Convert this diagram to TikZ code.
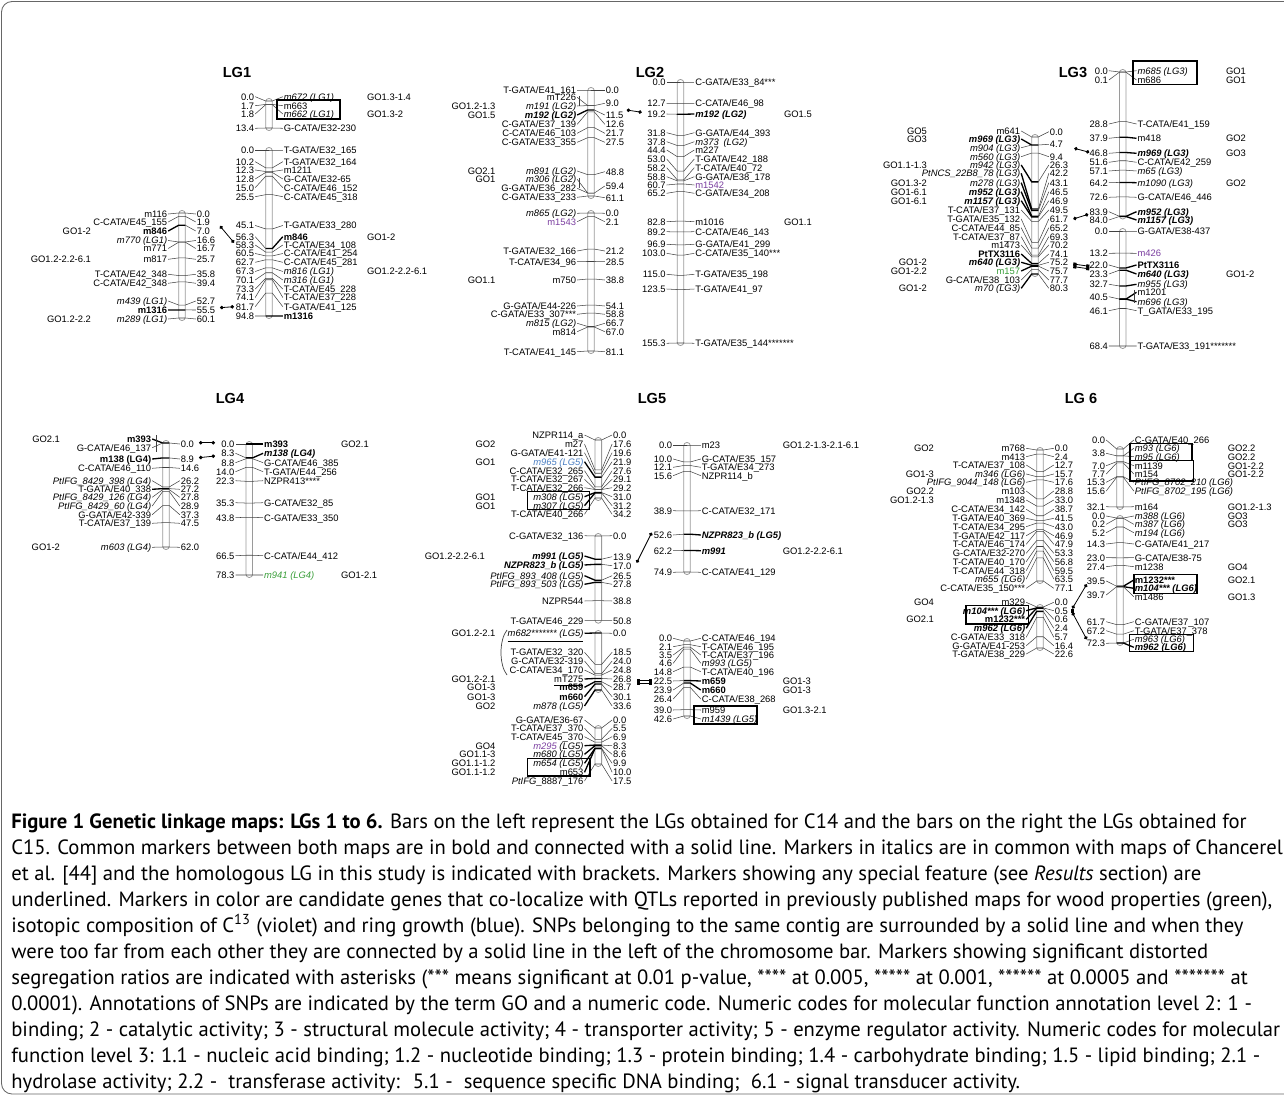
\documentclass[tikz,border=0pt]{standalone}
\usepackage{fontspec}
\setmainfont{Liberation Sans}
\newfontfamily\capfont{PT Sans}
\usetikzlibrary{arrows.meta}
\definecolor{mapvio}{HTML}{7B3FA0}
\definecolor{mapgrn}{HTML}{3A9E3A}
\definecolor{mapblu}{HTML}{4A7EC2}
\definecolor{mapline}{HTML}{404040}
\definecolor{mapbar}{HTML}{9A9A9A}
\newcounter{mk}
\newcommand\mapfont{\fontsize{5.35}{6}\selectfont}
\newcommand\mkit[1]{\textit{#1}}
\newcommand\mkbf[1]{\textbf{#1}}
\newcommand\mkbi[1]{\textbf{\textit{#1}}}
\newcommand\vio[1]{\textcolor{mapvio}{#1}}
\newcommand\grn[1]{\textcolor{mapgrn}{#1}}
\newcommand\blu[1]{\textcolor{mapblu}{#1}}
% bar with names on the left and positions on the right
% #1 x, #2 y at 0 cM, #3 y at last cM, #4 last cM, #5 names, #6 positions
\newcommand\chrA[6]{%
  \pgfmathsetmacro\cfac{(#3-#2)/#4}%
  \draw[chrbar] (#1-3.3,#2-2.5) rectangle (#1+3.3,#3+2.5);
  \foreach \ly/\cmv/\txt/\sty in {#5}{%
    \stepcounter{mk}%
    \pgfmathsetmacro\yb{#2+\cmv*\cfac}%
    \node[mname,anchor=east] (nm\arabic{mk}) at (#1-13.8,\ly) {\txt};
    \draw[mk-\sty] (nm\arabic{mk}.east) -- (#1-3.3,\yb) -- (#1+3.3,\yb);
  }
  \foreach \ly/\cmv in {#6}{%
    \stepcounter{mk}%
    \pgfmathsetmacro\yb{#2+\cmv*\cfac}%
    \node[mname,anchor=west] (ps\arabic{mk}) at (#1+13.8,\ly) {\cmv};
    \draw[mk-n] (#1+3.3,\yb) -- (ps\arabic{mk}.west);
  }
}
% bar with positions on the left and names on the right
\newcommand\chrB[6]{%
  \pgfmathsetmacro\cfac{(#3-#2)/#4}%
  \draw[chrbar] (#1-3.3,#2-2.5) rectangle (#1+3.3,#3+2.5);
  \foreach \ly/\cmv/\txt/\sty in {#5}{%
    \stepcounter{mk}%
    \pgfmathsetmacro\yb{#2+\cmv*\cfac}%
    \node[mname,anchor=west] (nm\arabic{mk}) at (#1+13.8,\ly) {\txt};
    \draw[mk-\sty] (nm\arabic{mk}.west) -- (#1+3.3,\yb) -- (#1-3.3,\yb);
  }
  \foreach \ly/\cmv in {#6}{%
    \stepcounter{mk}%
    \pgfmathsetmacro\yb{#2+\cmv*\cfac}%
    \node[mname,anchor=east] (ps\arabic{mk}) at (#1-13.8,\ly) {\cmv};
    \draw[mk-n] (#1-3.3,\yb) -- (ps\arabic{mk}.east);
  }
}
% GO annotations: #1 anchor, #2 x, #3 list y/text
\newcommand\golist[3]{%
  \foreach \gy/\gt in {#3}{%
    \stepcounter{mk}%
    \node[mname,anchor=#1] (go\arabic{mk}) at (#2,\gy) {\gt};
  }
}

\begin{document}
\begin{tikzpicture}[x=0.02cm,y=-0.02cm,
  chrbar/.style={draw=mapbar,line width=0.45pt,rounded corners=1.8pt},
  mk-n/.style={draw=mapline,line width=0.3pt},
  mk-b/.style={draw=black,line width=0.75pt},
  mname/.style={font=\mapfont,inner sep=0.4pt,text height=4.3pt,text depth=0.5pt},
  snpbox/.style={draw=black,line width=0.9pt},
  bracket/.style={draw=mapline,line width=0.4pt},
  link/.style={draw=black,line width=0.45pt,{Circle[length=2pt]}-{Circle[length=2pt]}},
  link2/.style={draw=black,line width=0.45pt,{Square[length=1.8pt]}-{Square[length=1.8pt]}},
  lgtitle/.style={font=\fontsize{8.3}{10}\selectfont\bfseries},
  capline/.style={anchor=base west,inner sep=0pt,font=\capfont\fontsize{11.75}{14}\selectfont}
]
\useasboundingbox (0,0) rectangle (1284,1101);
\draw[draw=black!60,line width=0.5pt,rounded corners=6pt] (1.5,1.5) rectangle (1340,1094);

% titles
\node[lgtitle] (t1) at (237,72) {LG1};
\node[lgtitle] (t2) at (650,72) {LG2};
\node[lgtitle] (t3) at (1073,72) {LG3};
\node[lgtitle] (t4) at (230,398) {LG4};
\node[lgtitle] (t5) at (652,398) {LG5};
\node[lgtitle] (t6) at (1081,398) {LG 6};

% ---------------- LG1
\chrA{182}{213}{318}{60.1}{%
214/0.0/m116/n,222/1.9/{C-CATA/E45\_155}/n,231/7.0/{\mkbf{m846}}/b,%
240.5/16.6/{\mkit{m770 (LG1)}}/n,248.5/16.7/m771/n,259.3/25.7/m817/n,%
274.3/35.8/{T-CATA/E42\_348}/n,283.3/39.4/{C-CATA/E42\_348}/n,%
301/52.7/{\mkit{m439 (LG1)}}/n,310/55.5/{\mkbf{m1316}}/b,319/60.1/{\mkit{m289 (LG1)}}/n}{%
214/0.0,222/1.9,231/7.0,240.5/16.6,248.5/16.7,259.3/25.7,274.3/35.8,283.3/39.4,301/52.7,310/55.5,319/60.1}
\chrB{269}{101}{128}{13.4}{%
96.7/0.0/{\mkit{m672 (LG1)}}/n,105.7/1.7/m663/n,114/1.8/{\mkit{m662 (LG1)}}/n,128.3/13.4/{G-CATA/E32-230}/n}{%
96.7/0.0,105.7/1.7,114/1.8,128.3/13.4}
\chrB{269}{150}{316}{94.8}{%
150/0.0/{T-GATA/E32\_165}/n,161.7/10.2/{T-GATA/E32\_164}/n,170/12.3/m1211/n,%
179/12.8/{G-CATA/E32-65}/n,187.7/15.0/{C-CATA/E46\_152}/n,196.7/25.5/{C-CATA/E45\_318}/n,%
225.5/45.1/{T-GATA/E33\_280}/n,236.7/56.3/{\mkbf{m846}}/b,245/58.3/{T-CATA/E34\_108}/n,%
253.5/60.5/{C-CATA/E41\_254}/n,262.3/62.7/{C-CATA/E45\_281}/n,271.5/67.3/{\mkit{m816 (LG1)}}/n,%
280/70.1/{\mkit{m316 (LG1)}}/n,289/73.3/{T-CATA/E45\_228}/n,297.5/74.1/{T-CATA/E37\_228}/n,%
306.7/81.7/{T-GATA/E41\_125}/n,316/94.8/{\mkbf{m1316}}/b}{%
150/0.0,161.7/10.2,170/12.3,179/12.8,187.7/15.0,196.7/25.5,225.5/45.1,236.7/56.3,245/58.3,%
253.5/60.5,262.3/62.7,271.5/67.3,280/70.1,289/73.3,297.5/74.1,306.7/81.7,316/94.8}
\draw[snpbox] (277,100) rectangle (340,119);
\golist{east}{92}{231/GO1-2,259.3/GO1.2-2.2-6.1,319/GO1.2-2.2}
\golist{west}{366}{96.7/GO1.3-1.4,114/GO1.3-2,236.7/GO1-2,271.5/GO1.2-2.2-6.1}
\coordinate (c846a) at (220,226);
\coordinate (c846b) at (234,242.7);
\coordinate (c1316a) at (220,307.7);
\coordinate (c1316b) at (234,306.7);
\draw[link] (c846a) -- (c846b);
\draw[link] (c1316a) -- (c1316b);

% ---------------- LG2
\chrA{591}{90}{196}{61.1}{%
90/0.0/{T-GATA/E41\_161}/n,97.3/9.0/mT226/n,106/9.0/{\mkit{m191 (LG2)}}/n,%
115/11.5/{\mkbi{m192 (LG2)}}/b,124.3/12.6/{C-GATA/E37\_139}/n,133.3/21.7/{C-CATA/E46\_103}/n,%
142.3/27.5/{C-GATA/E33\_355}/n,171/48.8/{\mkit{m891 (LG2)}}/n,179.3/59.4/{\mkit{m306 (LG2)}}/n,%
188.3/59.4/{G-GATA/E36\_282}/n,197.3/61.1/{C-GATA/E33\_233}/n}{%
90/0.0,103.3/9.0,115/11.5,124.3/12.6,133.3/21.7,142.3/27.5,171.7/48.8,186/59.4,197.7/61.1}
\draw[bracket] (579.3,96) -- (579.3,106);
\draw[bracket] (579.3,178) -- (579.3,188);
\chrA{591}{213}{351}{81.1}{%
213.3/0.0/{\mkit{m865 (LG2)}}/n,221.7/2.1/{\vio{m1543}}/n,251/21.2/{T-GATA/E32\_166}/n,%
261.7/28.5/{T-CATA/E34\_96}/n,280/38.8/m750/n,306/54.1/{G-GATA/E44-226}/n,%
314.3/58.8/{C-GATA/E33\_307***}/n,323.3/66.7/{\mkit{m815 (LG2)}}/n,331.7/67.0/m814/n,%
351.7/81.1/{T-CATA/E41\_145}/n}{%
213.3/0.0,221.7/2.1,251/21.2,261.7/28.5,280/38.8,306/54.1,314.3/58.8,323.3/66.7,331.7/67.0,351.7/81.1}
\chrB{680.5}{82}{343}{155.3}{%
82/0.0/{C-GATA/E33\_84***}/n,103.3/12.7/{C-CATA/E46\_98}/n,114/19.2/{\mkbi{m192 (LG2)}}/b,%
132.7/31.8/{G-GATA/E44\_393}/n,141.7/37.8/{\mkit{m373\enspace(LG2)}}/n,150/44.4/m227/n,%
159/53.0/{T-GATA/E42\_188}/n,167.7/58.2/{T-CATA/E40\_72}/n,176.7/58.8/{G-GATA/E38\_178}/n,%
185/60.7/{\vio{m1542}}/n,193.3/65.2/{C-GATA/E34\_208}/n,221.7/82.8/m1016/n,%
231.7/89.2/{C-CATA/E46\_143}/n,244.3/96.9/{G-GATA/E41\_299}/n,253.3/103.0/{C-CATA/E35\_140***}/n,%
274.3/115.0/{T-GATA/E35\_198}/n,289/123.5/{T-GATA/E41\_97}/n,343.3/155.3/{T-GATA/E35\_144*******}/n}{%
82/0.0,103.3/12.7,114/19.2,132.7/31.8,141.7/37.8,150/44.4,159/53.0,167.7/58.2,176.7/58.8,185/60.7,%
193.3/65.2,221.7/82.8,231.7/89.2,244.3/96.9,253.3/103.0,274.3/115.0,289/123.5,343.3/155.3}
\golist{east}{496.5}{106/GO1.2-1.3,115/GO1.5,171/GO2.1,179.3/GO1,280/GO1.1}
\golist{west}{783}{114/GO1.5,221.7/GO1.1}
\coordinate (c192a) at (626.7,110);
\coordinate (c192b) at (641.7,112.3);
\draw[link] (c192a) -- (c192b);

% ---------------- LG3
\chrA{1035}{137}{274}{80.3}{%
131/0.0/m641/n,139/4.7/{\mkbi{m969 (LG3)}}/b,147.7/4.7/{\mkit{m904 (LG3)}}/n,%
156.7/9.4/{\mkit{m560 (LG3)}}/n,165/26.3/{\mkit{m942 (LG3)}}/b,173.3/42.2/{\mkit{PtNCS\_22B8\_78 (LG3)}}/b,%
182.7/43.1/{\mkit{m278 (LG3)}}/b,191.7/46.5/{\mkbi{m952 (LG3)}}/b,200.7/46.9/{\mkbi{m1157 (LG3)}}/b,%
210/49.5/{T-CATA/E37\_131}/n,219/61.7/{T-GATA/E35\_132}/n,227.7/65.2/{C-CATA/E44\_85}/n,%
236.7/69.3/{T-CATA/E37\_87}/n,245/70.2/m1473/n,254/74.1/{\mkbf{PtTX3116}}/b,%
262.3/75.2/{\mkbi{m640 (LG3)}}/b,271/75.7/{\grn{m157}}/b,280/77.7/{G-CATA/E38\_103}/n,%
288.3/80.3/{\mkit{m70 (LG3)}}/b}{%
131.7/0.0,144.3/4.7,156.7/9.4,165/26.3,173.3/42.2,182.7/43.1,191.7/46.5,200.7/46.9,210/49.5,%
219/61.7,227.7/65.2,236.7/69.3,245/70.2,254/74.1,262.3/75.2,271/75.7,280/77.7,288.3/80.3}
\chrB{1122.7}{72}{216.5}{84.0}{%
70.7/0.0/{\mkit{m685 (LG3)}}/n,80/0.1/m686/n,124/28.8/{T-CATA/E41\_159}/n,138.3/37.9/m418/b,%
153.3/46.8/{\mkbi{m969 (LG3)}}/b,162.3/51.6/{C-CATA/E42\_259}/n,171/57.1/{\mkit{m65 (LG3)}}/n,%
182.7/64.2/{\mkit{m1090 (LG3)}}/b,197.3/72.6/{G-CATA/E46\_446}/n,211.7/83.9/{\mkbi{m952 (LG3)}}/b,%
220/84.0/{\mkbi{m1157 (LG3)}}/b}{%
70.7/0.0,80/0.1,124/28.8,138.3/37.9,153.3/46.8,162.3/51.6,171/57.1,182.7/64.2,197.3/72.6,211.7/83.9,220/84.0}
\chrB{1122.7}{231}{346}{68.4}{%
231/0.0/{G-GATA/E38-437}/n,253.3/13.2/{\vio{m426}}/n,265/22.0/{\mkbf{PtTX3116}}/b,%
274/23.3/{\mkbi{m640 (LG3)}}/b,284.3/32.7/{\mkit{m955 (LG3)}}/b,292.3/40.5/m1201/b,%
301.7/40.5/{\mkit{m696 (LG3)}}/b,310.7/46.1/{T\_GATA/E33\_195}/n,346/68.4/{T-GATA/E33\_191*******}/n}{%
231/0.0,253.3/13.2,265/22.0,274/23.3,284.3/32.7,296.7/40.5,310.7/46.1,346/68.4}
\draw[bracket] (1134.3,290) -- (1134.3,303.3);
\draw[snpbox] (1133,61) rectangle (1197,84.3);
\golist{east}{928}{131/GO5,139/GO3,165/GO1.1-1.3,182.7/GO1.3-2,191.7/GO1-6.1,200.7/GO1-6.1,262.3/GO1-2,271/GO1-2.2,288.3/GO1-2}
\golist{west}{1225}{70.7/GO1,80/GO1,138.3/GO2,153.3/GO3,182.7/GO2,274/GO1-2}
\coordinate (c969a) at (1074.3,148.3);
\coordinate (c969b) at (1089.3,152.3);
\coordinate (c952a) at (1073.3,219);
\coordinate (c952b) at (1088.3,214.3);
\coordinate (ctxa) at (1073.3,264);
\coordinate (ctxb) at (1089.3,266.3);
\coordinate (c640a) at (1073.3,266.6);
\coordinate (c640b) at (1089.3,268.9);
\draw[link] (c969a) -- (c969b);
\draw[link] (c952a) -- (c952b);
\draw[link2] (ctxa) -- (ctxb);
\draw[link2] (c640a) -- (c640b);

% ---------------- LG4
\chrA{166}{443}{547}{62.0}{%
439/0.0/{\mkbf{m393}}/b,447.7/0.0/{G-CATA/E46\_137}/n,459/8.9/{\mkbf{m138 (LG4)}}/b,%
468.3/14.6/{C-CATA/E46\_110}/n,480.7/26.2/{\mkit{PtIFG\_8429\_398 (LG4)}}/n,489.3/27.2/{T-GATA/E40\_338}/b,%
497.3/27.8/{\mkit{PtIFG\_8429\_126 (LG4)}}/n,506/28.9/{\mkit{PtIFG\_8429\_60 (LG4)}}/n,%
514.7/37.3/{G-GATA/E42-339}/n,523.3/47.5/{T-CATA/E37\_139}/n,547.3/62.0/{\mkit{m603 (LG4)}}/n}{%
444/0.0,459/8.9,468.3/14.6,480.7/26.2,489.3/27.2,497.3/27.8,506/28.9,514.7/37.3,523.3/47.5,547.3/62.0}
\draw[bracket] (156,435) -- (156,451.7);
\chrB{249.3}{444}{575}{78.3}{%
444/0.0/{\mkbf{m393}}/b,453.3/8.3/{\mkbi{m138 (LG4)}}/b,462.7/8.8/{G-CATA/E46\_385}/n,%
471.7/14.0/{T-GATA/E44\_256}/n,480.7/22.3/{NZPR413****}/n,502.7/35.3/{G-CATA/E32\_85}/n,%
517.7/43.8/{C-GATA/E33\_350}/n,555.7/66.5/{C-CATA/E44\_412}/n,575/78.3/{\grn{\mkit{m941 (LG4)}}}/n}{%
444/0.0,453.3/8.3,462.7/8.8,471.7/14.0,480.7/22.3,502.7/35.3,517.7/43.8,555.7/66.5,575/78.3}
\golist{east}{61}{439/GO2.1,547.3/GO1-2}
\golist{west}{340}{444/GO2.1,575/GO1-2.1}
\coordinate (c393a) at (199,442.7);
\coordinate (c393b) at (215,442.7);
\coordinate (c138a) at (199,457.7);
\coordinate (c138b) at (215,456);
\draw[link] (c393a) -- (c393b);
\draw[link] (c138a) -- (c138b);

% ---------------- LG5
\chrA{598.3}{440}{498}{34.2}{%
435/0.0/{NZPR114\_a}/n,444/17.6/m27/n,452.7/19.6/{G-GATA/E41-121}/n,%
461.7/21.9/{\blu{\mkit{m965 (LG5)}}}/b,470.7/27.6/{C-CATA/E32\_265}/n,479.3/29.1/{T-CATA/E32\_267}/n,%
487.7/29.2/{T-CATA/E32\_266}/n,496.7/31.0/{\mkit{m308 (LG5)}}/b,505.7/31.2/{\mkit{m307 (LG5)}}/b,%
514.3/34.2/{T-CATA/E40\_266}/n}{%
435/0.0,444/17.6,452.7/19.6,461.7/21.9,470.7/27.6,479.3/29.1,487.7/29.2,496.7/31.0,505.7/31.2,514.3/34.2}
\chrA{598.3}{536}{620.7}{50.8}{%
535.7/0.0/{C-GATA/E32\_136}/n,556/13.9/{\mkbi{m991 (LG5)}}/b,565/17.0/{\mkbi{NZPR823\_b (LG5)}}/b,%
575.7/26.5/{\mkit{PtIFG\_893\_408 (LG5)}}/b,584.3/27.8/{\mkit{PtIFG\_893\_503 (LG5)}}/b,%
601/38.8/NZPR544/n,620.7/50.8/{T-GATA/E46\_229}/n}{%
535.7/0.0,556.7/13.9,565.7/17.0,575.7/26.5,584.3/27.8,601/38.8,620.7/50.8}
\chrA{598.3}{633}{690}{33.6}{%
633.3/0.0/{\mkit{\underline{m682******* (LG5)}}}/b,652.3/18.5/{T-GATA/E32\_320}/n,%
661/24.0/{G-CATA/E32-319}/n,670/24.8/{C-CATA/E34\_170}/n,679/26.8/{\underline{mT275}}/b,%
687.3/28.7/{\mkbf{m659}}/b,696.7/30.1/{\mkbf{m660}}/b,706/33.6/{\mkit{m878 (LG5)}}/b}{%
633.3/0.0,652.3/18.5,661/24.0,670/24.8,679/26.8,687.3/28.7,696.7/30.1,706/33.6}
\draw[bracket] (507,630) .. controls (499,640) and (499,665) .. (507,675);
\chrA{598.3}{728}{764}{17.5}{%
720/0.0/{G-GATA/E36-67}/n,728.3/5.5/{T-CATA/E37\_370}/n,736.7/6.9/{T-CATA/E45\_370}/n,%
745.7/8.3/{\mkit{\vio{m295} (LG5)}}/b,754.3/8.6/{\mkit{m680 (LG5)}}/b,763.3/9.9/{\mkit{m654 (LG5)}}/b,%
772.3/10.0/m653/b,781/17.5/{\mkit{PtIFG}\_8887\_176}/n}{%
720/0.0,728.3/5.5,736.7/6.9,745.7/8.3,754.3/8.6,763.3/9.9,772.3/10.0,781/17.5}
\chrB{687}{445}{572}{74.9}{%
445/0.0/m23/n,459/10.0/{G-CATA/E35\_157}/n,467.3/12.1/{T-GATA/E34\_273}/n,475.7/15.6/{NZPR114\_b}/n,%
510.7/38.9/{C-CATA/E32\_171}/n,535/52.6/{\mkbi{NZPR823\_b (LG5)}}/b,550.7/62.2/{\mkbi{m991}}/b,%
572.3/74.9/{C-CATA/E41\_129}/n}{%
445/0.0,459/10.0,467.3/12.1,475.7/15.6,510.7/38.9,535/52.6,550.7/62.2,572.3/74.9}
\chrB{687}{641}{716}{42.6}{%
638.3/0.0/{C-CATA/E46\_194}/n,646.7/2.1/{T-CATA/E46\_195}/n,655/3.5/{T-CATA/E37\_196}/n,%
663.3/4.6/{\mkit{m993 (LG5)}}/n,671.7/14.8/{T-CATA/E40\_196}/n,681/22.5/{\mkbf{m659}}/b,%
690/23.9/{\mkbf{m660}}/b,699/26.4/{C-CATA/E38\_268}/n,710/39.0/m959/n,719/42.6/{\mkit{m1439 (LG5)}}/n}{%
638.3/0.0,646.7/2.1,655/3.5,663.3/4.6,671.7/14.8,681/22.5,690/23.9,699/26.4,710/39.0,719/42.6}
\draw[snpbox] (527.3,491.7) rectangle (589.3,509.3);
\draw[snpbox] (527.3,758.3) rectangle (590,776);
\draw[snpbox] (694,706) rectangle (756.7,724);
\golist{east}{496.5}{444/GO2,461.7/GO1,496.7/GO1,505.7/GO1,633.3/GO1.2-2.1,679/GO1.2-2.1,687.3/GO1-3,696.7/GO1-3,706/GO2,%
745.7/GO4,754.3/GO1.1-3,763.3/GO1.1-1.2,772.3/GO1.1-1.2}
\golist{east}{486}{556/GO1.2-2.2-6.1}
\golist{west}{781.7}{445/GO1.2-1.3-2.1-6.1,550.7/GO1.2-2.2-6.1,681/GO1-3,690/GO1-3,710/GO1.3-2.1}
\coordinate (c823a) at (636.7,562.7);
\coordinate (c823b) at (651.7,532.7);
\coordinate (c659a) at (636.7,680.5);
\coordinate (c659b) at (651.7,680.5);
\coordinate (c660a) at (636.7,683.5);
\coordinate (c660b) at (651.7,683.5);
\draw[link] (c823a) -- (c823b);
\draw[link2] (c659a) -- (c659b);
\draw[link2] (c660a) -- (c660b);

% ---------------- LG6
\chrA{1040}{450}{581}{77.1}{%
448.3/0.0/m768/n,456.7/2.4/m413/n,465/12.7/{T-CATA/E37\_108}/n,474/15.7/{\mkit{m346 (LG6)}}/n,%
482.3/17.6/{\mkit{PtIFG\_9044\_148 (LG6)}}/n,491/28.8/m103/n,500/33.0/m1348/n,%
509.3/38.7/{C-CATA/E34\_142}/n,518.3/41.5/{T-GATA/E40\_369}/n,526.7/43.0/{T-CATA/E34\_295}/n,%
535.7/46.9/{T-GATA/E42\_117}/n,544.3/47.9/{T-CATA/E46\_174}/n,553.3/53.3/{G-CATA/E32-270}/n,%
561.7/56.8/{T-CATA/E40\_170}/n,570.7/59.5/{T-CATA/E44\_318}/n,579/63.5/{\mkit{m655 (LG6)}}/n,%
588.3/77.1/{C-CATA/E35\_150***}/n}{%
448.3/0.0,456.7/2.4,465/12.7,474/15.7,482.3/17.6,491/28.8,500/33.0,509.3/38.7,518.3/41.5,526.7/43.0,%
535.7/46.9,544.3/47.9,553.3/53.3,561.7/56.8,570.7/59.5,579/63.5,588.3/77.1}
\chrA{1040}{607}{648}{22.6}{%
602.3/0.0/m329/n,610.7/0.5/{\mkbi{m104*** (LG6)}}/b,619.3/0.6/{\mkbf{m1232***}}/b,%
628.3/2.4/{\mkbi{m962 (LG6)}}/b,637.3/5.7/{C-GATA/E33\_318}/n,645.7/16.4/{G-GATA/E41-253}/n,%
654/22.6/{T-GATA/E38\_229}/n}{%
602.3/0.0,610.7/0.5,619.3/0.6,628.3/2.4,637.3/5.7,645.7/16.4,654/22.6}
\chrB{1120}{449}{507}{32.1}{%
440/0.0/{C-GATA/E40\_266}/n,448.3/3.8/{\mkit{m93 (LG6)}}/n,456.7/3.8/{\mkit{m95 (LG6)}}/n,%
465.7/7.0/m1139/n,474/7.7/m154/n,482.3/15.3/{\mkit{PtIFG\_8702\_210 (LG6)}}/n,%
491/15.6/{\mkit{PtIFG\_8702\_195 (LG6)}}/n,506.7/32.1/m164/n}{%
440/0.0,453.3/3.8,465.7/7.0,474/7.7,482.3/15.3,491/15.6,506.7/32.1}
\chrB{1120}{518}{643}{72.3}{%
516/0.0/{\mkit{m388 (LG6)}}/n,524.3/0.2/{\mkit{m387 (LG6)}}/n,532.7/5.2/{\mkit{m194 (LG6)}}/n,%
544/14.3/{C-GATA/E41\_217}/n,557.7/23.0/{G-CATA/E38-75}/n,566.7/27.4/m1238/n,%
580/39.5/{\mkbf{m1232***}}/b,588.3/39.7/{\mkbi{m104*** (LG6)}}/b,596.7/39.7/m1486/n,%
621.7/61.7/{C-GATA/E37\_107}/n,630.7/67.2/{T-GATA/E37\_378}/n,639.3/72.3/{\mkit{m963 (LG6)}}/n,%
647.3/72.3/{\mkbi{m962 (LG6)}}/b}{%
516/0.0,524.3/0.2,532.7/5.2,544/14.3,557.7/23.0,566.7/27.4,581/39.5,595/39.7,621.7/61.7,630.7/67.2,643.3/72.3}
\draw[snpbox] (966,605.7) rectangle (1028.3,624);
\draw[snpbox] (1130,443.3) rectangle (1191.7,460.7);
\draw[snpbox] (1130,460.7) rectangle (1193.3,481);
\draw[snpbox] (1134,574.3) rectangle (1196.7,593.3);
\draw[snpbox] (1129.3,634.3) rectangle (1193.3,651.7);
\golist{east}{935}{448.3/GO2,474/GO1-3,491/GO2.2,500/GO1.2-1.3,602.3/GO4,619.3/GO2.1}
\golist{west}{1226.7}{448.3/GO2.2,456.7/GO2.2,465.7/GO1-2.2,474/GO1-2.2,506.7/GO1.2-1.3,516/GO3,524.3/GO3,566.7/GO4,580/GO2.1,596.7/GO1.3}
\coordinate (c104a) at (1072.3,608.5);
\coordinate (c104b) at (1086.7,584.3);
\coordinate (c962a) at (1072.3,612.5);
\coordinate (c962b) at (1086.7,639.3);
\draw[link2] (c104a) -- (c962a);
\draw[link] (c104a) -- (c104b);
\draw[link] (c962a) -- (c962b);

% ---------------- caption
\node[capline] (cap1) at (11,828) {\textbf{Figure 1 Genetic linkage maps: LGs 1 to 6.} Bars on the left represent the LGs obtained for C14 and the bars on the right the LGs obtained for};
\node[capline] (cap2) at (11,854) {C15. Common markers between both maps are in bold and connected with a solid line. Markers in italics are in common with maps of Chancerel};
\node[capline] (cap3) at (11,880) {et al. [44] and the homologous LG in this study is indicated with brackets. Markers showing any special feature (see \textit{Results} section) are};
\node[capline] (cap4) at (11,906) {underlined. Markers in color are candidate genes that co-localize with QTLs reported in previously published maps for wood properties (green),};
\node[capline] (cap5) at (11,932) {isotopic composition of C\textsuperscript{13} (violet) and ring growth (blue). SNPs belonging to the same contig are surrounded by a solid line and when they};
\node[capline] (cap6) at (11,958) {were too far from each other they are connected by a solid line in the left of the chromosome bar. Markers showing significant distorted};
\node[capline] (cap7) at (11,984) {segregation ratios are indicated with asterisks (*** means significant at 0.01 p-value, **** at 0.005, ***** at 0.001, ****** at 0.0005 and ******* at};
\node[capline] (cap8) at (11,1010) {0.0001). Annotations of SNPs are indicated by the term GO and a numeric code. Numeric codes for molecular function annotation level 2: 1 -};
\node[capline] (cap9) at (11,1036) {binding; 2 - catalytic activity; 3 - structural molecule activity; 4 - transporter activity; 5 - enzyme regulator activity. Numeric codes for molecular};
\node[capline] (cap10) at (11,1062) {function level 3: 1.1 - nucleic acid binding; 1.2 - nucleotide binding; 1.3 - protein binding; 1.4 - carbohydrate binding; 1.5 - lipid binding; 2.1 -};
\node[capline] (cap11) at (11,1088) {hydrolase activity; 2.2 - \ transferase activity: \ 5.1 - \ sequence specific DNA binding; \ 6.1 - signal transducer activity.};
\end{tikzpicture}
\end{document}
